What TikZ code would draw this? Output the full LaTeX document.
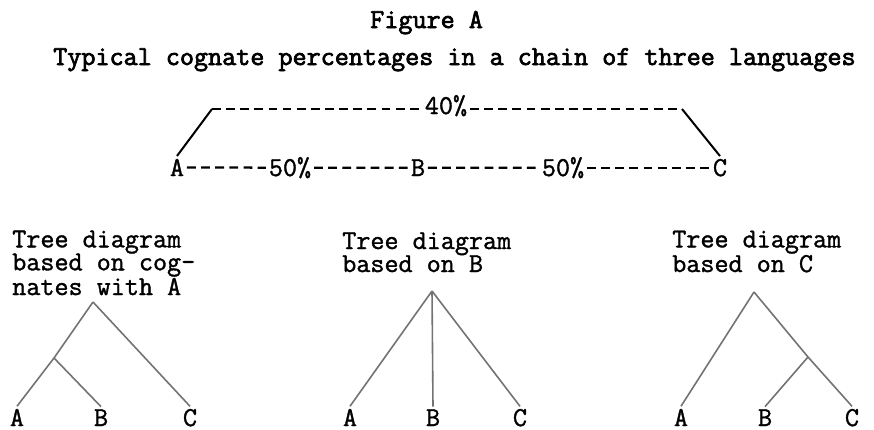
\documentclass[tikz,border=0pt]{standalone}
\usepackage{fontspec}
\newfontfamily\twfont[FakeBold=1.3]{Latin Modern Mono}
\newfontfamily\twbold[FakeBold=2.6]{Latin Modern Mono}
\begin{document}
\begin{tikzpicture}[x=0.75pt,y=-0.75pt,
  txt/.style={inner sep=0pt,anchor=base west,align=left,font=\twfont\fontsize{20.5}{17.25}\selectfont},
  ttl/.style={inner sep=0pt,anchor=base west,font=\twbold\fontsize{20.5}{17}\selectfont},
  chainlbl/.style={inner sep=2pt,anchor=base,font=\twfont\fontsize{20.5}{17}\selectfont},
  leaf/.style={inner sep=1.8pt,anchor=base,font=\twfont\fontsize{20.5}{17}\selectfont},
  dashline/.style={line width=1.7pt,dash pattern=on 6.6pt off 4pt},
  solidline/.style={line width=1.5pt},
  tree/.style={line width=1.2pt,draw=black!55}]
\useasboundingbox (0,0) rectangle (874,429);

% title
\node[ttl] (title) at (370,28) {Figure A};
\node[ttl] (sub) at (53,65) {Typical cognate percentages in a chain of three languages};

% chain
\node[chainlbl] (A) at (177,176) {A};
\node[chainlbl] (B) at (418,176) {B};
\node[chainlbl] (C) at (720,176) {C};
\node[chainlbl] (p1) at (290,176) {50\%};
\node[chainlbl] (p2) at (563,176) {50\%};
\node[chainlbl] (p40) at (446,114) {40\%};
\coordinate (L) at (212,109);
\coordinate (R) at (682,109);
\draw[dashline] (A.east) -- (p1.west);
\draw[dashline] (p1.east) -- (B.west);
\draw[dashline] (B.east) -- (p2.west);
\draw[dashline] (p2.east) -- (C.west);
\draw[dashline] (L) -- (L -| p40.west);
\draw[dashline] (R -| p40.east) -- (R);
\draw[solidline] (A.north) -- (L);
\draw[solidline] (R) -- (C.north);

% tree labels (base anchor = baseline of the last line)
\node[txt] (l1) at (12,295) {Tree diagram\\based on cog-\\nates with A};
\node[txt] (l2) at (342,272) {Tree diagram\\based on B};
\node[txt] (l3) at (672,272) {Tree diagram\\based on C};

% left tree
\node[leaf] (a1) at (17,426) {A};
\node[leaf] (b1) at (101,426) {B};
\node[leaf] (c1) at (190,426) {C};
\coordinate (r1) at (93,302);
\coordinate (j1) at (54,358);
\draw[tree] (r1) -- (j1) -- (a1.north);
\draw[tree] (j1) -- (b1.north);
\draw[tree] (r1) -- (c1.north);

% middle tree
\node[leaf] (a2) at (350,426) {A};
\node[leaf] (b2) at (433,426) {B};
\node[leaf] (c2) at (520,426) {C};
\coordinate (r2) at (432,291);
\draw[tree] (r2) -- (a2.north);
\draw[tree] (r2) -- (b2.north);
\draw[tree] (r2) -- (c2.north);

% right tree
\node[leaf] (a3) at (681,426) {A};
\node[leaf] (b3) at (765,426) {B};
\node[leaf] (c3) at (852,426) {C};
\coordinate (r3) at (754,292);
\coordinate (j3) at (808,357);
\draw[tree] (r3) -- (a3.north);
\draw[tree] (r3) -- (j3) -- (c3.north);
\draw[tree] (j3) -- (b3.north);
\end{tikzpicture}
\end{document}
